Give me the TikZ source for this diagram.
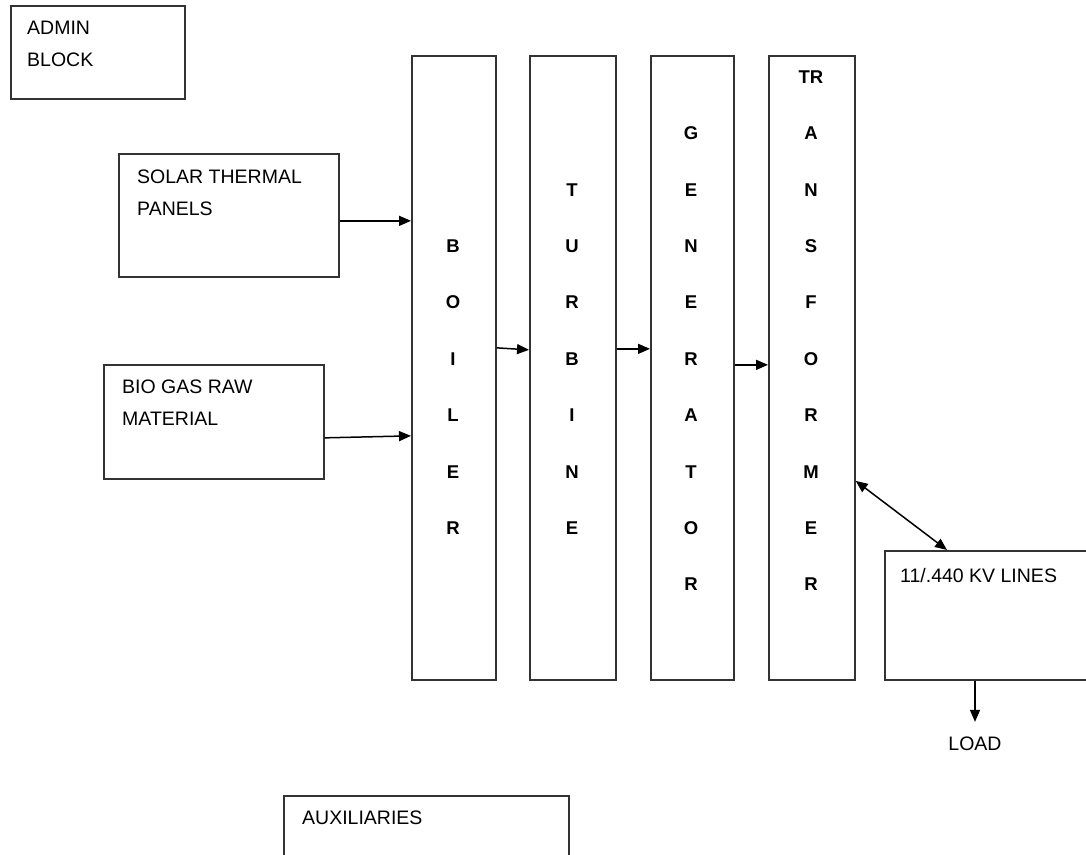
\documentclass[tikz,border=0pt]{standalone}
\usepackage{fontspec}
\setmainfont{Liberation Sans}
\usetikzlibrary{arrows.meta, positioning}

\tikzset{
  block/.style={draw=black!80, line width=1.7pt, inner sep=0pt, anchor=north west},
  blocktext/.style={inner sep=0pt, anchor=north west, align=left, font=\fontsize{19.5}{31.5}\selectfont},
  letter/.style={inner sep=0pt, font=\bfseries\fontsize{18.5}{20}\selectfont},
  flow/.style={line width=1.5pt, -{Triangle[length=12pt,width=10pt]}},
}

\begin{document}
\begin{tikzpicture}[x=1pt, y=-1pt]
\useasboundingbox (0,0) rectangle (1086,854);
\clip (0,0) rectangle (1086,854);

% side blocks
\node[block, minimum width=174, minimum height=93] (admin) at (10,5) {};
\node[blocktext] (admin-text) at (27,21) {ADMIN\\BLOCK};
\node[block, minimum width=220, minimum height=123] (solar) at (118,153) {};
\node[blocktext] (solar-text) at (137,170) {SOLAR THERMAL\\PANELS};
\node[block, minimum width=220, minimum height=114] (bio) at (103,364) {};
\node[blocktext] (bio-text) at (122,380) {BIO GAS RAW\\MATERIAL};
\node[block, minimum width=220, minimum height=129] (kv) at (884,550) {};
\node[blocktext] (kv-text) at (900,568) {11/.440 KV LINES};
\node[block, minimum width=285, minimum height=80] (aux) at (283,795) {};
\node[blocktext] (aux-text) at (302,811) {AUXILIARIES};
\node[inner sep=0pt, font=\fontsize{19.5}{31.5}\selectfont] (load) at (975,744) {LOAD};

% main chain
\foreach \name/\x/\w in {boiler/411/84, turbine/529/86, generator/650/83, transformer/768/86}
  \node[block, minimum width=\w, minimum height=624] (\name) at (\x,55) {};

\foreach \col/\x/\first/\word in {boiler/453/3/{B,O,I,L,E,R},
    turbine/572/2/{T,U,R,B,I,N,E},
    generator/691/1/{G,E,N,E,R,A,T,O,R},
    transformer/811/0/{TR,A,N,S,F,O,R,M,E,R}}
  \foreach \t [count=\k from \first] in \word
    \node[letter] (\col-\k) at (\x, 77+56.4*\k) {\t};

% connectors
\coordinate (solar-out) at ([yshift=-5.5pt]solar.east);
\draw[flow] (solar-out) -- (solar-out -| boiler.west);
\coordinate (bio-out) at ([yshift=-16pt]bio.east);
\draw[flow] (bio-out) -- ([yshift=2pt]bio-out -| boiler.west);
\coordinate (boiler-out) at ([yshift=20pt]boiler.east);
\draw[flow] (boiler-out) -- ([yshift=-2pt]boiler-out -| turbine.west);
\coordinate (turbine-out) at ([yshift=19pt]turbine.east);
\draw[flow] (turbine-out) -- (turbine-out -| generator.west);
\coordinate (generator-out) at ([yshift=3pt]generator.east);
\draw[flow] (generator-out) -- (generator-out -| transformer.west);
\coordinate (trans-port) at ([yshift=-113pt]transformer.east);
\coordinate (kv-port) at ([xshift=63pt]kv.north west);
\draw[flow, {Triangle[length=12pt,width=10pt]}-{Triangle[length=12pt,width=10pt]}] (trans-port) -- (kv-port);
\draw[flow] (kv.south -| load.north) -- ([yshift=15pt]load.north);
\end{tikzpicture}
\end{document}
